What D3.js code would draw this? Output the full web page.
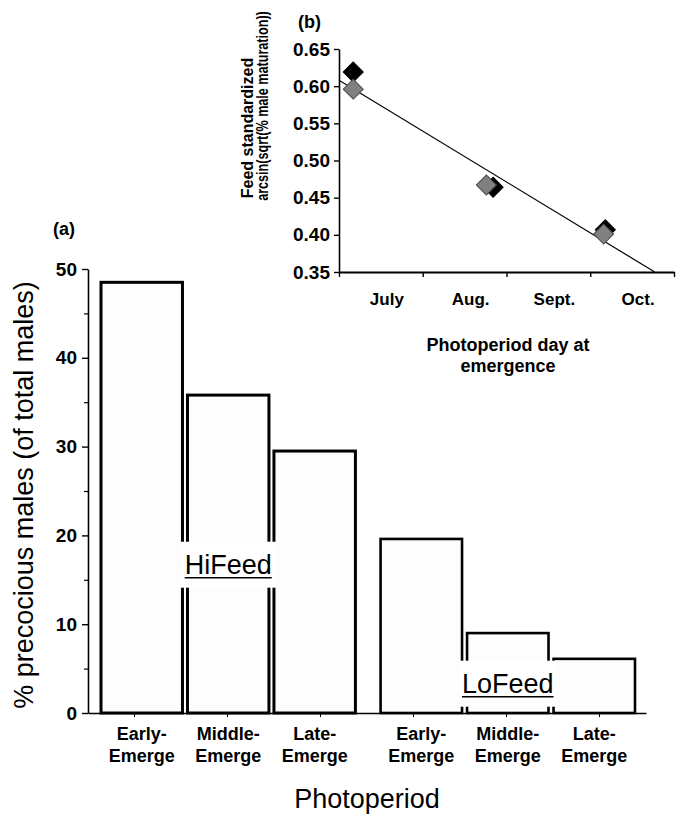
<!DOCTYPE html>
<html>
<head>
<meta charset="utf-8">
<script src="https://cdn.jsdelivr.net/npm/d3@7"></script>
<style>
  html, body { margin: 0; padding: 0; background: #fff; }
  svg { display: block; }
  text { font-family: "Liberation Sans", Arial, sans-serif; fill: #000; }
</style>
</head>
<body>
<svg id="chart" width="682" height="817"></svg>
<script>
// ---- panel (a): % precocious males ----
const feedGroups = ['HiFeed', 'LoFeed'];
const emergeCats = ['Early-Emerge', 'Middle-Emerge', 'Late-Emerge'];
const hiFeedPct = [48.5, 35.8, 29.5];
const loFeedPct = [19.6, 9.0, 6.1];
const pctTicks = [0, 10, 20, 30, 40, 50];
const pctMinorTicks = [5, 15, 25, 35, 45];
// where the group labels sit (value units)
const groupLabelPct = [16.7, 3.3];

// ---- panel (b): arcsin(sqrt(% male maturation)) vs photoperiod ----
const monthLabels = ['July', 'Aug.', 'Sept.', 'Oct.'];
const monthTicks = [0, 1, 2, 3, 4];
const arcsinTicks = [0.35, 0.40, 0.45, 0.50, 0.55, 0.60, 0.65];
// month index (0 = start of July)
const darkDay = [0.17, 1.84, 3.18];
const darkArcsin = [0.619, 0.464, 0.407];
const greyDay = [0.17, 1.76, 3.16];
const greyArcsin = [0.596, 0.467, 0.401];
const fitDay = [0, 3.77];
const fitArcsin = [0.608, 0.35];

const svg = d3.select('#chart');

function styleAxis(g, size, weight) {
  g.attr('font-family', null).attr('font-size', null);
  g.selectAll('text')
    .style('font-size', size + 'px')
    .style('font-weight', weight);
}

/* ================= panel (a) ================= */
const yA = d3.scaleLinear().domain([0, 50]).range([713, 269]);
const axisBand = d3.scaleBand().domain(d3.range(6)).range([88, 646]);
const groupX = d3.scaleBand().domain(feedGroups).range([101, 635]).paddingInner(0.09);
const innerX = d3.scaleBand().domain(emergeCats).range([0, groupX.bandwidth()]).paddingInner(0.058);

const barData = [];
feedGroups.forEach((g, gi) => {
  const vals = gi === 0 ? hiFeedPct : loFeedPct;
  emergeCats.forEach((c, ci) => barData.push({group: g, cat: c, value: vals[ci]}));
});

const gA = svg.append('g');

// y axis
const yAxisA = gA.append('g')
  .attr('transform', 'translate(88,0)')
  .call(d3.axisLeft(yA).tickValues(pctTicks).tickSize(6).tickSizeOuter(0).tickPadding(5));
styleAxis(yAxisA, 19, 'bold');
yAxisA.select('.domain').attr('stroke-width', 1.6);
yAxisA.selectAll('.tick line').attr('stroke-width', 1.4);

gA.append('g')
  .attr('transform', 'translate(88,0)')
  .call(d3.axisLeft(yA).tickValues(pctMinorTicks).tickSize(4).tickFormat(''))
  .call(g => g.select('.domain').remove())
  .selectAll('line').attr('stroke-width', 1.2);

// x axis (ticks only, labels drawn under the bars)
const xAxisA = gA.append('g')
  .attr('transform', `translate(0,${yA(0)})`)
  .call(d3.axisBottom(axisBand).tickSize(4).tickSizeOuter(0).tickFormat(''));
xAxisA.select('.domain').attr('stroke-width', 1.6);
xAxisA.selectAll('.tick line').attr('stroke-width', 1);

// bars
gA.selectAll('rect.bar')
  .data(barData)
  .enter().append('rect')
  .attr('class', 'bar')
  .attr('x', d => groupX(d.group) + innerX(d.cat))
  .attr('width', innerX.bandwidth())
  .attr('y', d => yA(d.value))
  .attr('height', d => yA(0) - yA(d.value))
  .attr('fill', '#fdfdfd')
  .attr('stroke', '#000')
  .attr('stroke-width', d => d.group === 'HiFeed' ? 3 : 2.6);

// category labels
const catLabels = gA.selectAll('text.cat')
  .data(barData)
  .enter().append('text')
  .attr('class', 'cat')
  .attr('text-anchor', 'middle')
  .style('font-size', '18px')
  .style('font-weight', 'bold');
catLabels.append('tspan')
  .attr('x', d => groupX(d.group) + innerX(d.cat) + innerX.bandwidth() / 2)
  .attr('y', 740)
  .text(d => d.cat.split('-')[0] + '-');
catLabels.append('tspan')
  .attr('x', d => groupX(d.group) + innerX(d.cat) + innerX.bandwidth() / 2)
  .attr('y', 762)
  .text(d => d.cat.split('-')[1]);

// group labels (white box breaking the bar outlines, underlined text)
feedGroups.forEach((g, gi) => {
  const cx = groupX(g) + innerX(emergeCats[1]) + innerX.bandwidth() / 2;
  const cy = yA(groupLabelPct[gi]);
  gA.append('rect')
    .attr('x', cx - 48).attr('y', cy - 23)
    .attr('width', 96).attr('height', 46)
    .attr('fill', '#fff');
  const t = gA.append('text')
    .attr('x', cx).attr('y', cy + 9)
    .attr('text-anchor', 'middle')
    .style('font-size', '27px')
    .text(g);
  const w = t.node().getComputedTextLength();
  gA.append('line')
    .attr('x1', cx - w / 2).attr('x2', cx + w / 2)
    .attr('y1', cy + 13).attr('y2', cy + 13)
    .attr('stroke', '#000').attr('stroke-width', 1.6);
});

// titles
gA.append('text')
  .attr('transform', `translate(33,${(yA(0) + yA(50)) / 2 + 4}) rotate(-90)`)
  .attr('text-anchor', 'middle')
  .style('font-size', '27px')
  .text('% precocious males (of total males)');

gA.append('text')
  .attr('x', 367).attr('y', 808)
  .attr('text-anchor', 'middle')
  .style('font-size', '27px')
  .text('Photoperiod');

gA.append('text')
  .attr('x', 53).attr('y', 235)
  .style('font-size', '18px').style('font-weight', 'bold')
  .text('(a)');

/* ================= panel (b) ================= */
const xB = d3.scaleLinear().domain([0, 4]).range([339, 674]);
const yB = d3.scaleLinear().domain([0.35, 0.65]).range([272, 49]);
const gB = svg.append('g');

const yAxisB = gB.append('g')
  .attr('transform', `translate(${xB(0)},0)`)
  .call(d3.axisLeft(yB).tickValues(arcsinTicks).tickFormat(d3.format('.2f'))
    .tickSize(5).tickSizeOuter(0).tickPadding(4));
styleAxis(yAxisB, 19, 'bold');
yAxisB.select('.domain').attr('stroke-width', 1.6);
yAxisB.selectAll('.tick line').attr('stroke-width', 1.4);

const xAxisB = gB.append('g')
  .attr('transform', `translate(0,${yB(0.35)})`)
  .call(d3.axisBottom(xB).tickValues(monthTicks).tickSize(5).tickSizeOuter(0).tickFormat(''));
xAxisB.select('.domain').attr('stroke-width', 1.8);
xAxisB.selectAll('.tick line').attr('stroke-width', 1.4);

gB.selectAll('text.month')
  .data(monthLabels)
  .enter().append('text')
  .attr('class', 'month')
  .attr('x', (d, i) => xB(i + 0.5) + 6)
  .attr('y', 305)
  .attr('text-anchor', 'middle')
  .style('font-size', '17px').style('font-weight', 'bold')
  .text(d => d);

// fitted line
gB.append('path')
  .datum(fitDay.map((d, i) => [d, fitArcsin[i]]))
  .attr('d', d3.line().x(d => xB(d[0])).y(d => yB(d[1])))
  .attr('fill', 'none')
  .attr('stroke', '#000')
  .attr('stroke-width', 1.2);

const diamond = d3.symbol().type(d3.symbolSquare).size(200);
function drawPoints(days, vals, fill, stroke) {
  gB.selectAll(null)
    .data(days.map((d, i) => [d, vals[i]]))
    .enter().append('path')
    .attr('d', diamond)
    .attr('transform', d => `translate(${xB(d[0])},${yB(d[1])}) rotate(45)`)
    .attr('fill', fill)
    .attr('stroke', stroke)
    .attr('stroke-width', 1);
}
drawPoints(darkDay, darkArcsin, '#000', '#000');
drawPoints(greyDay, greyArcsin, '#808080', '#4a4a4a');

// axis titles (second line is narrower in the original, so it is squeezed along its length)
gB.append('text')
  .attr('transform', 'translate(253,128) rotate(-90)')
  .attr('text-anchor', 'middle')
  .style('font-size', '16px').style('font-weight', 'bold')
  .text('Feed standardized');
gB.append('text')
  .attr('transform', 'translate(268,106) scale(1.25,1) rotate(-90)')
  .attr('text-anchor', 'middle')
  .style('font-size', '12.6px').style('font-weight', 'bold')
  .text('arcsin(sqrt(% male maturation))');

const xTitleB = gB.append('text')
  .attr('text-anchor', 'middle')
  .style('font-size', '18px').style('font-weight', 'bold');
xTitleB.append('tspan').attr('x', 508).attr('y', 351).text('Photoperiod day at');
xTitleB.append('tspan').attr('x', 508).attr('y', 372).text('emergence');

gB.append('text')
  .attr('x', 298).attr('y', 28)
  .style('font-size', '18px').style('font-weight', 'bold')
  .text('(b)');
</script>
</body>
</html>
